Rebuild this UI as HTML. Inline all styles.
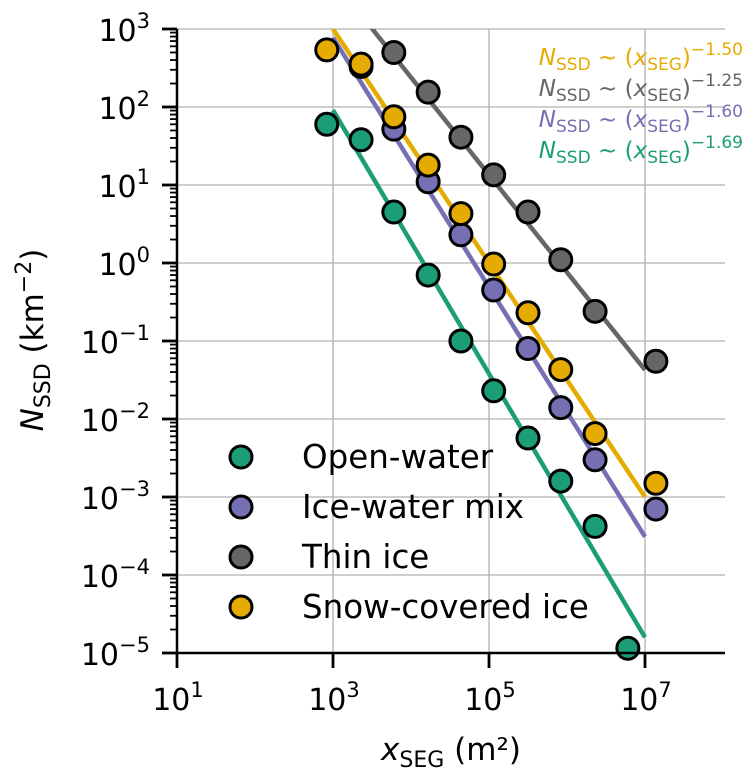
<!DOCTYPE html>
<html><head><meta charset="utf-8"><style>
body{margin:0;background:#fff;}
svg{display:block;font-family:"DejaVu Sans","Liberation Sans",sans-serif;}
</style></head><body>
<svg id="chart" width="755" height="780" viewBox="0 0 755 780">
<g id="grid"></g>
<g id="lines"></g>
<g id="points"></g>
<g id="axes"></g>
<g id="legend"></g>
<g id="annot"></g>
<text x="43" y="340" font-size="31" text-anchor="middle" transform="rotate(-90 43 340)"><tspan font-style="italic">N</tspan><tspan font-size="22" dy="7">SSD</tspan><tspan dy="-7"> (km</tspan><tspan font-size="22" dy="-12">−2</tspan><tspan dy="12">)</tspan></text>
<text x="451" y="760" font-size="31" text-anchor="middle"><tspan font-style="italic">x</tspan><tspan font-size="22" dy="7">SEG</tspan><tspan dy="-7"> (m²)</tspan></text>
</svg>
<script>
const NS='http://www.w3.org/2000/svg';
const xTicks=[1,3,5,7];
const yTicks=[3,2,1,0,-1,-2,-3,-4,-5];
const seriesNames=['Open-water','Ice-water mix','Thin ice','Snow-covered ice'];
const seriesColors=['#1b9e77','#7570b3','#666666','#e6ab02'];
const greenX=[2.92,3.36,3.78,4.22,4.64,5.06,5.5,5.92,6.36,6.78];
const greenY=[60,38,4.5,0.7,0.1,0.023,0.0057,0.0016,0.00042,0.0000115];
const purpleX=[3.36,3.78,4.22,4.64,5.06,5.5,5.92,6.36,7.14];
const purpleY=[330,52,11,2.3,0.45,0.08,0.014,0.003,0.0007];
const grayX=[3.78,4.22,4.64,5.06,5.5,5.92,6.36,7.14];
const grayY=[500,155,41,13.5,4.5,1.1,0.24,0.055];
const snowX=[2.92,3.36,3.78,4.22,4.64,5.06,5.5,5.92,6.36,7.14];
const snowY=[540,355,75,18,4.3,0.97,0.23,0.043,0.0065,0.0015];
const fitSlopes=[-1.69,-1.60,-1.25,-1.50];
const fitLogY3=[1.96,2.89,3.63,3.0];
const fitLabels=['−1.50','−1.25','−1.60','−1.69'];
const fitLabelColors=['#e6ab02','#666666','#7570b3','#1b9e77'];
const X0=177,XD=78,Y0=29,YD=78;
function sx(l){return X0+(l-1)*XD;}
function sy(l){return Y0+(3-l)*YD;}
function mk(t,a,p){const e=document.createElementNS(NS,t);for(const k in a)e.setAttribute(k,a[k]);p.appendChild(e);return e;}
const grid=document.getElementById('grid'),axes=document.getElementById('axes');
const defs=mk('defs',{},document.getElementById('chart'));
const cp=mk('clipPath',{id:'cp'},defs);mk('rect',{x:177,y:29,width:548,height:624},cp);
xTicks.forEach(t=>{const l=mk('line',{x1:sx(t),x2:sx(t),y1:29,y2:653,stroke:'#b0b0b0','stroke-width':1.3},grid);

mk('line',{x1:sx(t),x2:sx(t),y1:653,y2:668,stroke:'#000','stroke-width':2.8},axes);
const tx=mk('text',{x:sx(t)+1,y:710,'font-size':30,'text-anchor':'middle'},axes);

tx.innerHTML='10<tspan font-size="21" dy="-13">'+t+'</tspan>';});
yTicks.forEach(t=>{const l=mk('line',{x1:177,x2:725,y1:sy(t),y2:sy(t),stroke:'#b0b0b0','stroke-width':1.3},grid);

mk('line',{x1:162,x2:177,y1:sy(t),y2:sy(t),stroke:'#000','stroke-width':2.8},axes);
if(t>-5){for(let m=2;m<10;m++){const yy=sy(t-1+Math.log10(m));mk('line',{x1:170,x2:177,y1:yy,y2:yy,stroke:'#000','stroke-width':1.8},axes);}}
const tx=mk('text',{x:150,y:sy(t)+12,'font-size':30,'text-anchor':'end'},axes);

const lab=t<0?'−'+(-t):''+t;
tx.innerHTML='10<tspan font-size="21" dy="-13">'+lab+'</tspan>';});
mk('line',{x1:177,x2:177,y1:29,y2:654,stroke:'#000','stroke-width':2.5},axes);
mk('line',{x1:176,x2:725,y1:653,y2:653,stroke:'#000','stroke-width':2.5},axes);
const lines=document.getElementById('lines');lines.setAttribute('clip-path','url(#cp)');
seriesColors.forEach((c,i)=>{const l=mk('line',{x1:sx(3),y1:sy(fitLogY3[i]),x2:sx(7),y2:sy(fitLogY3[i]+fitSlopes[i]*4),stroke:c,'stroke-width':4.5},lines);
});
const pts=document.getElementById('points');
const allX=[greenX,purpleX,grayX,snowX],allY=[greenY,purpleY,grayY,snowY];
[0,1,2,3].forEach(i=>{allX[i].forEach((x,j)=>{const c=mk('circle',{cx:sx(x),cy:sy(Math.log10(allY[i][j])),r:11,fill:seriesColors[i],stroke:'#000','stroke-width':3},pts);
});});
const lg=document.getElementById('legend');
seriesNames.forEach((n,i)=>{const y=457+i*50;
const c=mk('circle',{cx:241,cy:y,r:11,fill:seriesColors[i],stroke:'#000','stroke-width':3},lg);

const t=mk('text',{x:302,y:y+11,'font-size':32.5},lg);t.textContent=n;
});
const an=document.getElementById('annot');
fitLabels.forEach((s,i)=>{const t=mk('text',{x:743,y:65+i*31,'font-size':23,'text-anchor':'end',fill:fitLabelColors[i]},an);

t.innerHTML='<tspan font-style="italic">N</tspan><tspan font-size="17" dy="5">SSD</tspan><tspan dy="-5"> ~ (</tspan><tspan font-style="italic">x</tspan><tspan font-size="17" dy="5">SEG</tspan><tspan dy="-5">)</tspan><tspan font-size="17" dy="-10">'+s+'</tspan>';});
</script>
</body></html>
